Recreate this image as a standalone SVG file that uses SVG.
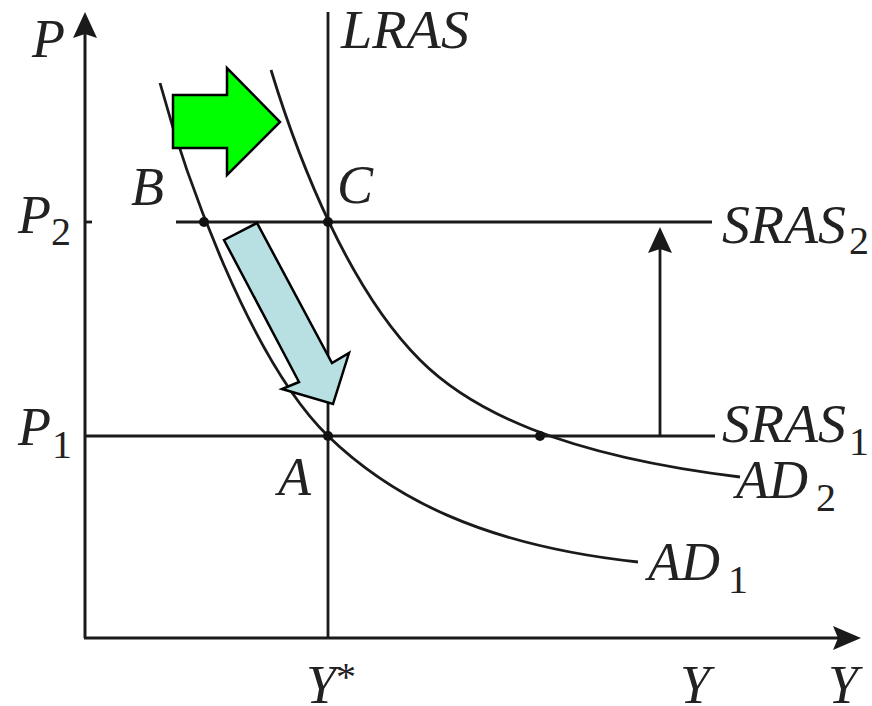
<svg xmlns="http://www.w3.org/2000/svg" width="872" height="706" viewBox="0 0 872 706">
<style>
.ln{stroke:#1a1a1a;stroke-width:2.8;fill:none}
.ax{stroke:#1a1a1a;stroke-width:3;fill:none}
.t{font-family:"Liberation Serif","DejaVu Serif",serif;font-style:italic;font-size:54px;fill:#222}
.s{font-family:"Liberation Serif","DejaVu Serif",serif;font-size:40px;fill:#222}
.dot{fill:#111}
</style>
<rect width="872" height="706" fill="#fff"/>
<g id="axes">
<line class="ax" x1="85" y1="30" x2="85" y2="638"/>
<line class="ax" x1="84" y1="638" x2="840" y2="638"/>
<polygon points="85,12 97,38 85,34 73,38" fill="#1a1a1a"/>
<polygon points="861,638 833,626 838,638 833,650" fill="#1a1a1a"/>
<line class="ln" x1="85" y1="222" x2="92" y2="222"/>
</g>
<g id="connectors">
<line id="lras" class="ln" x1="328" y1="12" x2="328" y2="638"/>
<line id="sras2" class="ln" x1="176" y1="222" x2="712" y2="222"/>
<line id="sras1" class="ln" x1="85" y1="436" x2="715" y2="436"/>
<path id="ad1" class="ln" d="M160,83 C185,175 250,360 328,436 C390,496 480,545 638,562"/>
<path id="ad2" class="ln" d="M271,70 C300,165 350,290 420,360 C470,410 560,455 740,477"/>
<line class="ln" x1="660" y1="436" x2="660" y2="245"/>
<polygon points="660,227 672,253 660,249 648,253" fill="#1a1a1a"/>
</g>
<g id="points">
<circle class="dot" cx="204" cy="222" r="5"/>
<circle class="dot" cx="328" cy="222" r="5"/>
<circle class="dot" cx="328" cy="436" r="5"/>
<circle class="dot" cx="540" cy="436" r="5"/>
</g>
<g id="green-arrow">
<polygon points="173,95 227,95 227,68 280,122 227,175 227,148 173,148" fill="#00ff00" stroke="#000" stroke-width="2.5" stroke-linejoin="miter"/>
</g>
<g id="blue-arrow">
<polygon points="224,240 257,223 332,363 349,353 333,404 282,389 299,382" fill="#b8dfe2" stroke="#000" stroke-width="2.5"/>
</g>
<g id="labels">
<text class="t" x="32" y="57">P</text>
<text class="t" x="341" y="48" textLength="128" lengthAdjust="spacingAndGlyphs">LRAS</text>
<text class="t" x="131" y="205">B</text>
<text class="t" x="337" y="203">C</text>
<text class="t" x="18" y="233">P</text><text class="s" x="51" y="245">2</text>
<text class="t" x="722" y="243" textLength="124" lengthAdjust="spacingAndGlyphs">SRAS</text><text class="s" x="849" y="254">2</text>
<text class="t" x="18" y="445">P</text><text class="s" x="52" y="458">1</text>
<text class="t" x="722" y="442" textLength="124" lengthAdjust="spacingAndGlyphs">SRAS</text><text class="s" x="849" y="455">1</text>
<text class="t" x="278" y="495">A</text>
<text class="t" x="736" y="498">AD</text><text class="s" x="816" y="511">2</text>
<text class="t" x="648" y="580">AD</text><text class="s" x="728" y="593">1</text>
<text class="t" x="306" y="703">Y</text><text class="s" x="336" y="690">*</text>
<text class="t" x="680" y="703">Y</text>
<text class="t" x="828" y="703">Y</text>
</g>
</svg>
